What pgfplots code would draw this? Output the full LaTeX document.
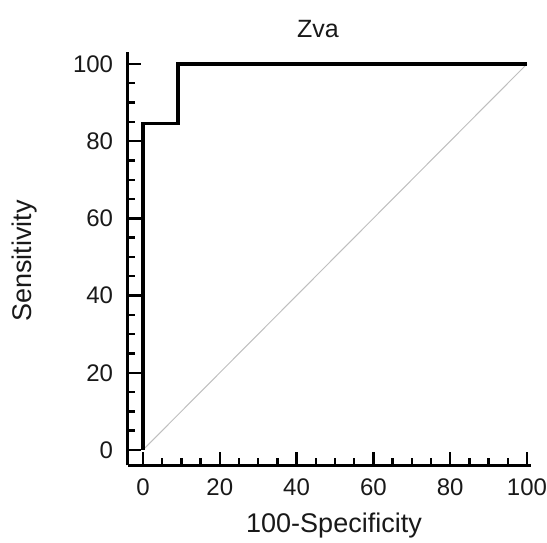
\documentclass[border=0pt]{standalone}
\usepackage{fontspec}
\setmainfont{Liberation Sans}
\usepackage{pgfplots}
\pgfplotsset{compat=1.18}

\begin{document}
\begin{tikzpicture}
\begin{axis}[
  at={(127.6pt,-465.4pt)}, anchor=south west,
  scale only axis, width=403.2pt, height=413pt,
  xmin=-4, xmax=101, ymin=-4, ymax=103,
  axis x line*=bottom, axis y line*=left,
  axis line style={line width=3pt, black},
  xtick={0,20,...,100}, ytick={0,20,...,100},
  minor tick num=3,
  tick align=inside,
  major tick length=13pt, minor tick length=7pt,
  every tick/.style={black, line width=2.4pt},
  /pgf/number format/assume math mode=true,
  tick label style={font=\fontsize{24}{27}\selectfont, text=black!90},
  xticklabel style={yshift=-10pt},
  yticklabel style={xshift=-11pt},
  clip=false,
]
  % chance diagonal
  \addplot[gray!50, line width=1pt] coordinates {(0,0) (100,100)};
  % empirical ROC curve
  \addplot[black, line width=3.3pt, line join=miter] coordinates {
    (0,0) (0,84.62) (9.09,84.62) (9.09,100) (100,100)
  };
\end{axis}
\node[font=\fontsize{25}{28}\selectfont, text=black!90] at (318pt,-29pt) {Zva};
\node[font=\fontsize{27}{30}\selectfont, text=black!90, inner sep=0pt] at (334pt,-526pt) {100-Specificity};
\node[font=\fontsize{27}{30}\selectfont, text=black!90, rotate=90] at (25pt,-261pt) {Sensitivity};
\pgfresetboundingbox
\useasboundingbox (0,0) rectangle (547pt,-543pt);
\end{tikzpicture}
\end{document}
